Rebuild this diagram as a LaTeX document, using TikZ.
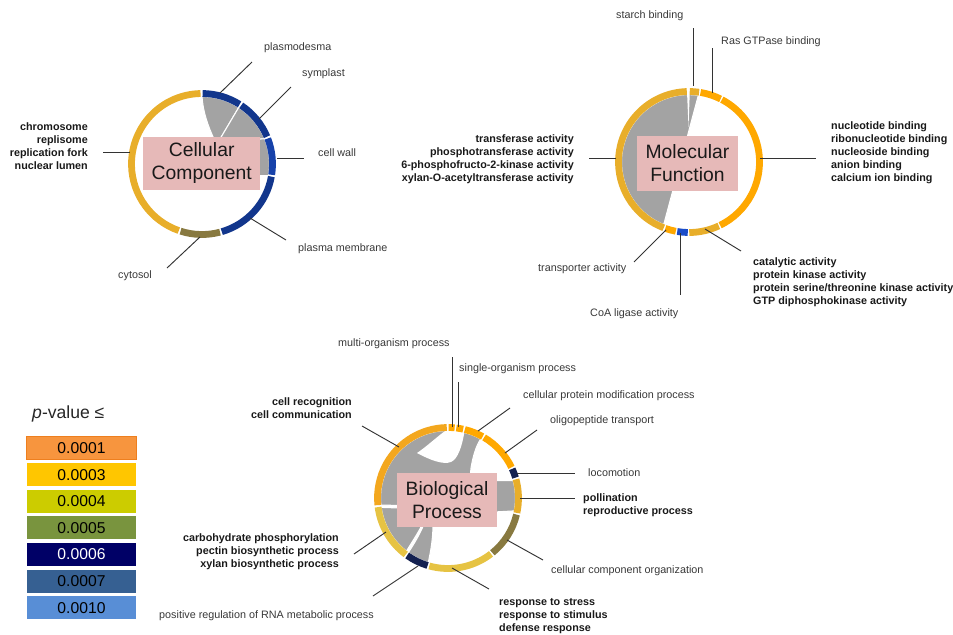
\documentclass[tikz,border=0pt]{standalone}
\usepackage{fontspec}
\setmainfont{Liberation Sans}
\usetikzlibrary{calc,positioning}
\definecolor{ringgold}{HTML}{E8AE2A}
\definecolor{ringorange}{HTML}{FFA800}
\definecolor{recorange}{HTML}{F3A71E}
\definecolor{ringnavy}{HTML}{12368C}
\definecolor{ringblue}{HTML}{1742AA}
\definecolor{coablue}{HTML}{1A4CC8}
\definecolor{ringolive}{HTML}{887940}
\definecolor{ringyellow}{HTML}{E6C343}
\definecolor{bpnavy}{HTML}{142150}
\definecolor{chordgray}{HTML}{A3A3A3}
\definecolor{boxpink}{HTML}{E6B9B8}
\definecolor{leadgray}{HTML}{333333}
\definecolor{lgA}{HTML}{F7953E}
\definecolor{lgAedge}{HTML}{EE7F1E}
\definecolor{lgB}{HTML}{FFC600}
\definecolor{lgC}{HTML}{CCCC00}
\definecolor{lgD}{HTML}{79943E}
\definecolor{lgE}{HTML}{000066}
\definecolor{lgF}{HTML}{366092}
\definecolor{lgG}{HTML}{588ED6}
\tikzset{
    ring/.style={line width=5.8pt},
    ribbon/.style={fill=chordgray, draw=white, line width=0.9pt, line join=round},
    leader/.style={draw=leadgray, line width=0.8pt},
    lbl/.style={inner sep=0pt, text=black!78, font=\fontsize{9.2}{11.1}\selectfont},
    lblb/.style={inner sep=0pt, text=black!90, font=\fontsize{9.2}{11.1}\selectfont\bfseries},
    titlebox/.style={fill=boxpink, align=center, inner sep=0pt, text=black!90, font=\fontsize{16.5}{19.6}\selectfont},
    legendbox/.style={minimum width=3.27cm, minimum height=0.69cm, inner sep=0pt, font=\fontsize{13.4}{15}\selectfont}
}

\begin{document}
\begin{tikzpicture}[x=0.03cm, y=0.03cm]
\useasboundingbox (0,0) rectangle (953,-634);

% circle centres
\coordinate (cc) at (202,-164);
\coordinate (mf) at (689,-162);
\coordinate (bp) at (448,-498);

% ---------------- Cellular Component ----------------
\foreach \a in {90,57,22,-10}
    \coordinate (cc\a) at ($(cc)+(\a:67.5)$);
\draw[ribbon] (cc90) arc[start angle=90, end angle=57, radius=67.5]
    -- (220,-139) -- (214,-139) .. controls (208,-126) and (203,-112) .. (cc90) -- cycle;
\draw[ribbon] (cc57) arc[start angle=57, end angle=22, radius=67.5]
    -- (235,-141) -- (220,-139) -- cycle;
\draw[ribbon] (cc22) arc[start angle=22, end angle=-10, radius=67.5]
    -- (250,-175.7) -- (235,-141) -- cycle;

\foreach \a/\b/\c in {91.2/250.8/ringgold, 89.5/57.8/ringnavy, 56.2/22.8/ringnavy,
    21.2/-8.8/ringblue, -10.3/-73.7/ringnavy, -75.2/-107.7/ringolive}
    \draw[ring, draw=\c] ($(cc)+(\a:70.5)$) arc[start angle=\a, end angle=\b, radius=70.5];

\node[titlebox, minimum width=3.51cm, minimum height=1.59cm] (cctitle) at (201.7,-163.3) {Cellular\\Component};

\node[lbl, anchor=west] (plasmodesma) at (264,-48) {plasmodesma};
\node[lbl, anchor=west] (symplast) at (302,-74) {symplast};
\node[lbl, anchor=west] (cellwall) at (318,-153) {cell wall};
\node[lbl, anchor=west] (plasmamembrane) at (298,-249) {plasma membrane};
\node[lbl, anchor=west] (cytosol) at (118,-276) {cytosol};
\node[lblb, anchor=east, align=right] (chromosome) at (88,-146)
    {chromosome\\replisome\\replication fork\\nuclear lumen};

\coordinate (plasmodesma-a) at (220,-93);   \coordinate (plasmodesma-b) at (252,-62);
\coordinate (symplast-a) at (259,-119);     \coordinate (symplast-b) at (291,-87);
\coordinate (cellwall-a) at (277,-158);     \coordinate (cellwall-b) at (304,-158);
\coordinate (plasmamembrane-a) at (250,-218); \coordinate (plasmamembrane-b) at (286,-240);
\coordinate (cytosol-a) at (200,-237);      \coordinate (cytosol-b) at (167,-268);
\coordinate (chromosome-a) at (130,-152);   \coordinate (chromosome-b) at (103,-152);
\foreach \n in {plasmodesma,symplast,cellwall,plasmamembrane,cytosol,chromosome}
    \draw[leader] (\n-a) -- (\n-b);

% ---------------- Molecular Function ----------------
\draw[ribbon] ($(mf)+(82:67.5)$) -- ($(mf)+(248:67.5)$)
    arc[start angle=248, end angle=91, radius=67.5] -- cycle;
\fill[white] ($(mf)+(91.6:68)$) -- ($(mf)+(89.4:68)$) -- (688.5,-127) -- cycle;

\foreach \a/\b/\c in {91.8/249/ringgold, 89.4/81.8/ringgold, 80.6/63.4/ringorange,
    62.2/-63.8/ringorange, -65/-89.8/ringgold, -91/-99.6/coablue, -100.8/-109.6/ringorange}
    \draw[ring, draw=\c] ($(mf)+(\a:70.5)$) arc[start angle=\a, end angle=\b, radius=70.5];

\node[titlebox, minimum width=3.03cm, minimum height=1.65cm] (mftitle) at (687.5,-163.5) {Molecular\\Function};

\node[lbl, anchor=west] (starch) at (616,-16) {starch binding};
\node[lbl, anchor=west] (ras) at (721,-42) {Ras GTPase binding};
\node[lblb, anchor=west, align=left] (nucleotide) at (831,-152.3)
    {nucleotide binding\\ribonucleotide binding\\nucleoside binding\\anion binding\\calcium ion binding};
\node[lblb, anchor=east, align=right] (transferase) at (574,-158.8)
    {transferase activity\\phosphotransferase activity\\6-phosphofructo-2-kinase activity\\xylan-O-acetyltransferase activity};
\node[lbl, anchor=west] (transporter) at (538,-269) {transporter activity};
\node[lbl, anchor=west] (coa) at (590,-314) {CoA ligase activity};
\node[lblb, anchor=west, align=left] (catalytic) at (753,-282)
    {catalytic activity\\protein kinase activity\\protein serine/threonine kinase activity\\GTP diphosphokinase activity};

\coordinate (starch-a) at (693,-86);        \coordinate (starch-b) at (693,-28);
\coordinate (ras-a) at (712,-93);           \coordinate (ras-b) at (712,-48);
\coordinate (nucleotide-a) at (760,-158);   \coordinate (nucleotide-b) at (816,-158);
\coordinate (transferase-a) at (616,-158);  \coordinate (transferase-b) at (589,-158);
\coordinate (catalytic-a) at (705,-229);    \coordinate (catalytic-b) at (741,-251);
\coordinate (coa-a) at (680,-233);          \coordinate (coa-b) at (680,-295);
\coordinate (transporter-a) at (666,-230);  \coordinate (transporter-b) at (634,-262);
\foreach \n in {starch,ras,nucleotide,transferase,catalytic,coa,transporter}
    \draw[leader] (\n-a) -- (\n-b);

% ---------------- Biological Process ----------------
\foreach \a in {92,186,188,232,234,253,61,76,15,-11}
    \coordinate (bp\a) at ($(bp)+(\a:67.5)$);
\draw[ribbon] (bp92) arc[start angle=92, end angle=186, radius=67.5]
    -- (402,-505.5) -- (402,-478) -- (470,-478) -- (471,-468)
    .. controls (473,-456) and (476,-446) .. (bp61)
    arc[start angle=61, end angle=76, radius=67.5] -- cycle;
\fill[white] (bp92) .. controls (438,-436) and (426,-447) .. (417,-453)
    .. controls (430,-460) and (443,-465) .. (451,-462)
    .. controls (458,-459) and (462,-446) .. (bp76) -- cycle;
\draw[ribbon] (bp188) arc[start angle=188, end angle=232, radius=67.5]
    .. controls (412,-542) and (418,-533) .. (422,-525) -- (400,-508) -- cycle;
\draw[ribbon] (bp234) arc[start angle=234, end angle=253, radius=67.5]
    .. controls (431,-550) and (433,-538) .. (433,-524) -- (424,-524)
    .. controls (420,-534) and (414,-544) .. (bp234) -- cycle;
\draw[ribbon] (494,-480.5) -- (bp15) arc[start angle=15, end angle=-11, radius=67.5]
    -- (494,-512) -- cycle;

\foreach \a/\b/\c in {91/185.8/recorange, 89.5/84.6/ringorange, 83.2/77.6/ringorange,
    76.2/60.6/ringorange, 59.2/25.8/ringorange, 24.4/16.8/bpnavy, 15.4/-12.2/ringgold,
    -13.6/-51/ringolive, -52.4/-105.4/ringyellow, -106.8/-125.4/bpnavy, -126.8/-172.6/ringyellow}
    \draw[ring, draw=\c] ($(bp)+(\a:70.5)$) arc[start angle=\a, end angle=\b, radius=70.5];

\node[titlebox, minimum width=3cm, minimum height=1.62cm] (bptitle) at (447,-500) {Biological\\Process};

\node[lbl, anchor=west] (multi) at (338,-344) {multi-organism process};
\node[lbl, anchor=west] (single) at (459,-369) {single-organism process};
\node[lbl, anchor=west] (modification) at (523,-396) {cellular protein modification process};
\node[lbl, anchor=west] (oligopeptide) at (550,-421) {oligopeptide transport};
\node[lbl, anchor=west] (locomotion) at (588,-473) {locomotion};
\node[lblb, anchor=west, align=left] (pollination) at (583,-505.5) {pollination\\reproductive process};
\node[lbl, anchor=west] (organization) at (551,-571) {cellular component organization};
\node[lblb, anchor=west, align=left] (stress) at (499,-616)
    {response to stress\\response to stimulus\\defense response};
\node[lbl, anchor=west] (regulation) at (159,-616) {positive regulation of RNA metabolic process};
\node[lblb, anchor=east, align=right] (carbohydrate) at (339,-552)
    {carbohydrate phosphorylation\\pectin biosynthetic process\\xylan biosynthetic process};
\node[lblb, anchor=east, align=right] (recognition) at (352,-408.5)
    {cell recognition\\cell communication};

\coordinate (multi-a) at (452,-427);        \coordinate (multi-b) at (452,-357);
\coordinate (single-a) at (458,-427);       \coordinate (single-b) at (458,-382);
\coordinate (modification-a) at (478,-431); \coordinate (modification-b) at (510,-408);
\coordinate (oligopeptide-a) at (505,-453); \coordinate (oligopeptide-b) at (537,-430);
\coordinate (locomotion-a) at (517,-473);   \coordinate (locomotion-b) at (575,-473);
\coordinate (pollination-a) at (520,-498);  \coordinate (pollination-b) at (575,-498);
\coordinate (organization-a) at (507,-540); \coordinate (organization-b) at (543,-560);
\coordinate (stress-a) at (452,-568);       \coordinate (stress-b) at (489,-589);
\coordinate (regulation-a) at (418,-566);   \coordinate (regulation-b) at (373,-596);
\coordinate (carbohydrate-a) at (386,-532); \coordinate (carbohydrate-b) at (354,-554);
\coordinate (recognition-a) at (399,-447);  \coordinate (recognition-b) at (362,-426);
\foreach \n in {multi,single,modification,oligopeptide,locomotion,pollination,
    organization,stress,regulation,carbohydrate,recognition}
    \draw[leader] (\n-a) -- (\n-b);

% ---------------- legend ----------------
\node[anchor=west, inner sep=0pt, text=black!85, font=\fontsize{15}{18}\selectfont] (pvalue) at (32,-414) {\textit{p}-value ≤};
\foreach \v/\c/\t [count=\i] in {0.0001/lgA/black, 0.0003/lgB/black, 0.0004/lgC/black,
    0.0005/lgD/black, 0.0006/lgE/white, 0.0007/lgF/black, 0.0010/lgG/black}
    \node[legendbox, fill=\c, text=\t] (lg\i) at (81.5,{-448-26.6*(\i-1)}) {\v};
\draw[lgAedge, line width=0.9pt] (lg1.south west) rectangle (lg1.north east);

\end{tikzpicture}
\end{document}
